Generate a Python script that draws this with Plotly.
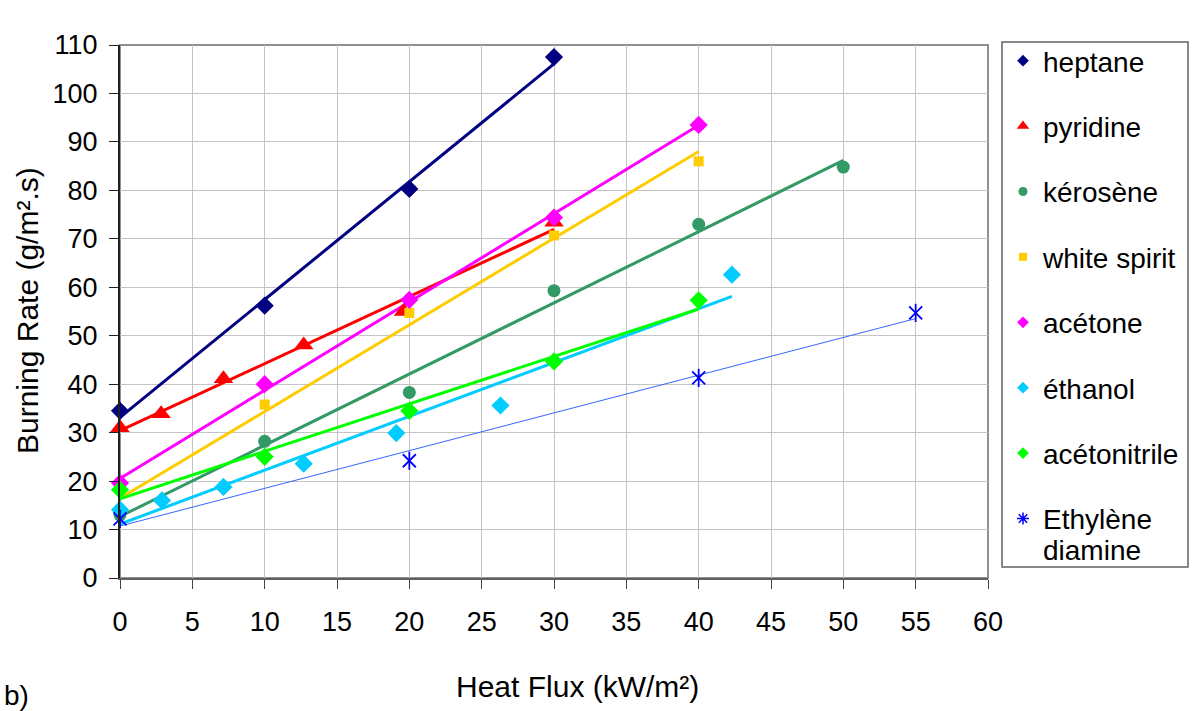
import numpy as np
import plotly.graph_objects as go

# ---- data ----
heptane_x = [0, 10, 20, 30]
heptane_y = [34.5, 56.2, 80.3, 107.5]

pyridine_x = [0, 2.84, 7.15, 12.7, 19.6, 30]
pyridine_y = [31.0, 33.9, 41.1, 48.1, 55.0, 73.4]

kerosene_x = [0, 10, 20, 30, 40, 50]
kerosene_y = [13.0, 28.2, 38.3, 59.3, 73.0, 84.8]

white_x = [0, 10, 20, 30, 40]
white_y = [14.0, 35.8, 54.7, 70.7, 86.0]

acetone_x = [0, 10, 20, 30, 40]
acetone_y = [19.6, 40.0, 57.4, 74.4, 93.5]

ethanol_x = [0, 2.9, 7.15, 12.7, 19.1, 26.3, 42.3]
ethanol_y = [14.1, 16.0, 18.8, 23.6, 29.9, 35.6, 62.6]

acetonitrile_x = [0, 10, 20, 30, 40]
acetonitrile_y = [18.2, 25.0, 34.5, 44.7, 57.3]

ethylene_x = [0, 20, 40, 55]
ethylene_y = [12.2, 24.2, 41.3, 54.7]

x_ticks = list(range(0, 61, 5))
y_ticks = list(range(0, 111, 10))

series = [
    # name, x, y, symbol, marker color, size, legend size, line color, line width
    ("heptane", heptane_x, heptane_y, "diamond", "#000080", 14, 9, "#000080", 3),
    ("pyridine", pyridine_x, pyridine_y, "triangle-up", "#FF0000", 17, 11, "#FF0000", 3),
    ("kérosène", kerosene_x, kerosene_y, "circle", "#339966", 13, 9, "#339966", 3),
    ("white spirit", white_x, white_y, "square", "#FFCC00", 10, 8, "#FFCC00", 3),
    ("acétone", acetone_x, acetone_y, "diamond", "#FF00FF", 14, 9, "#FF00FF", 3),
    ("éthanol", ethanol_x, ethanol_y, "diamond", "#00CCFF", 14, 9, "#00CCFF", 3),
    ("acétonitrile", acetonitrile_x, acetonitrile_y, "diamond", "#00FF00", 14, 9, "#00FF00", 3),
    ("Ethylène", ethylene_x, ethylene_y, "star", "#0000FF", 13, 10, "#3366FF", 1),
]
ethylene_name_line2 = "diamine"

FONT = "Liberation Sans, Arial, sans-serif"
fig = go.Figure()

# trendlines (linear least squares, as Excel does)
for name, xs, ys, sym, mc, ms, ls, lc, lw in series:
    k, b = np.polyfit(xs, ys, 1)
    xl = np.array([min(xs), max(xs)])
    fig.add_trace(go.Scatter(x=xl, y=k * xl + b, mode="lines",
                             line=dict(color=lc, width=lw),
                             showlegend=False, hoverinfo="skip"))

# markers
for i, (name, xs, ys, sym, mc, ms, ls, lc, lw) in enumerate(series):
    if sym == "star":
        # Excel-style star: an X plus a vertical bar
        for s in ("x-thin-open", "line-ns-open"):
            fig.add_trace(go.Scatter(x=xs, y=ys, mode="markers", name=name,
                                     marker=dict(symbol=s, color=mc, size=ms,
                                                 line=dict(color=mc, width=1.8)),
                                     cliponaxis=False, showlegend=False))
        fig.add_trace(go.Scatter(x=[None], y=[None], mode="markers", name=name,
                                 legendgroup=f"g{i}",
                                 marker=dict(symbol="asterisk-open", color=mc, size=ls,
                                             line=dict(color=mc, width=1.5))))
    else:
        fig.add_trace(go.Scatter(x=xs, y=ys, mode="markers", name=name,
                                 marker=dict(symbol=sym, color=mc, size=ms, line=dict(width=0)),
                                 cliponaxis=False, showlegend=False))
        fig.add_trace(go.Scatter(x=[None], y=[None], mode="markers", name=name,
                                 legendgroup=f"g{i}",
                                 marker=dict(symbol=sym, color=mc, size=ls, line=dict(width=0))))

L, R, T, B = 120, 204, 45, 133
W, H = 1192, 711
pw, ph = W - L - R, H - T - B

def px(xp):
    return (xp - L) / pw

def py(yp):
    return (H - B - yp) / ph

fig.update_layout(
    width=W, height=H,
    margin=dict(l=L, r=R, t=T, b=B, autoexpand=False),
    paper_bgcolor="white", plot_bgcolor="white",
    font=dict(family=FONT, size=27, color="black"),
    showlegend=True,
    legend=dict(x=px(1003), y=py(36), xanchor="left", yanchor="top",
                font=dict(family=FONT, size=28, color="black"),
                bgcolor="rgba(0,0,0,0)", borderwidth=0, maxheight=700,
                tracegroupgap=26, traceorder="grouped", valign="top"),
    xaxis=dict(range=[0, 60], tickvals=x_ticks, ticktext=[str(v) for v in x_ticks],
               showgrid=True, gridcolor="#C4C4C4", gridwidth=1,
               showline=True, linecolor="#606060", linewidth=2,
               ticks="outside", ticklen=9, tickcolor="#404040", tickwidth=1,
               ticklabelstandoff=10,
               tickfont=dict(size=27), zeroline=False, fixedrange=True),
    yaxis=dict(range=[0, 110], tickvals=y_ticks, ticktext=[str(v) for v in y_ticks],
               showgrid=True, gridcolor="#C4C4C4", gridwidth=1,
               showline=True, linecolor="#202020", linewidth=2,
               ticks="outside", ticklen=9, tickcolor="#202020", tickwidth=1,
               ticklabelstandoff=6,
               tickfont=dict(size=27), zeroline=False, fixedrange=True),
    shapes=[
        # plot-area border (top/right)
        dict(type="rect", xref="paper", yref="paper", x0=0, x1=1, y0=0, y1=1,
             line=dict(color="#909090", width=2), layer="below"),
        # legend box
        dict(type="rect", xref="paper", yref="paper",
             x0=px(1002), x1=px(1188), y0=py(567), y1=py(42),
             line=dict(color="#606060", width=1.5)),
    ],
    annotations=[
        dict(text="Heat Flux (kW/m²)", xref="paper", yref="paper",
             x=px(577), y=py(686), xanchor="center", yanchor="middle",
             showarrow=False, font=dict(size=30)),
        dict(text="Burning Rate (g/m².s)", xref="paper", yref="paper",
             x=px(27), y=py(311), xanchor="center", yanchor="middle",
             textangle=-90, showarrow=False, font=dict(size=30)),
        dict(text="b)", xref="paper", yref="paper",
             x=px(2), y=py(695), xanchor="left", yanchor="middle",
             showarrow=False, font=dict(size=28)),
        # second line of the last legend entry
        dict(text=ethylene_name_line2, xref="paper", yref="paper",
             x=px(1041), y=py(550), xanchor="left", yanchor="middle",
             showarrow=False, font=dict(size=28)),
    ],
)

fig.write_html("out.html")
